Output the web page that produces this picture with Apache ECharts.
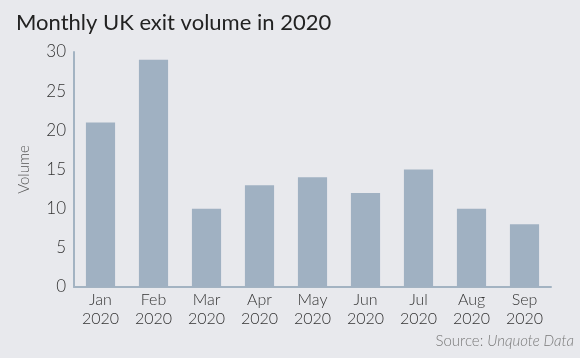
<!DOCTYPE html>
<html><head><meta charset="utf-8">
<script src="https://cdn.jsdelivr.net/npm/echarts@6/dist/echarts.min.js"></script>
<style>html,body{margin:0;padding:0;background:#e8e9ed;}#c{width:580px;height:358px;}</style>
</head><body><div id="c"></div>
<script>
var categories = ['Jan\n2020','Feb\n2020','Mar\n2020','Apr\n2020','May\n2020','Jun\n2020','Jul\n2020','Aug\n2020','Sep\n2020'];
var volumes = [21, 29, 10, 13, 14, 12, 15, 10, 8];
var chart = echarts.init(document.getElementById('c'));
chart.setOption({
  backgroundColor: '#e8e9ed',
  animation: false,
  title: {
    text: 'Monthly UK exit volume in 2020',
    left: 11, top: 7,
    textStyle: {fontFamily: 'Lato', fontWeight: 'normal', fontSize: 22, color: '#222'}
  },
  graphic: [{
    type: 'text', right: 6, top: 334,
    style: {
      text: '{a|Source: }{b|Unquote Data}',
      rich: {
        a: {fontFamily: 'Lato', fontWeight: 300, fontSize: 15, fill: '#7a7a7a'},
        b: {fontFamily: 'Lato', fontWeight: 300, fontSize: 15, fontStyle: 'italic', fill: '#7a7a7a'}
      }
    }
  }],
  grid: {left: 74, right: 29, top: 52, bottom: 71},
  xAxis: {
    type: 'category', data: categories,
    axisLine: {lineStyle: {color: '#a3b3c2', width: 2}},
    axisTick: {show: false},
    axisLabel: {fontFamily: 'Lato', fontWeight: 300, fontSize: 16, color: '#333', lineHeight: 19, margin: 3}
  },
  yAxis: {
    type: 'value', min: 0, max: 30, interval: 5,
    name: 'Volume', nameLocation: 'middle', nameGap: 42,
    nameTextStyle: {fontFamily: 'Lato', fontWeight: 300, fontSize: 15, color: '#555'},
    axisLine: {show: true, lineStyle: {color: '#a3b3c2', width: 2}},
    axisTick: {show: false},
    splitLine: {show: false},
    axisLabel: {fontFamily: 'Lato', fontWeight: 300, fontSize: 17, color: '#333', margin: 8}
  },
  series: [{
    type: 'bar', data: volumes, barWidth: '55%',
    itemStyle: {color: '#a0b1c2'}
  }]
});
</script></body></html>
